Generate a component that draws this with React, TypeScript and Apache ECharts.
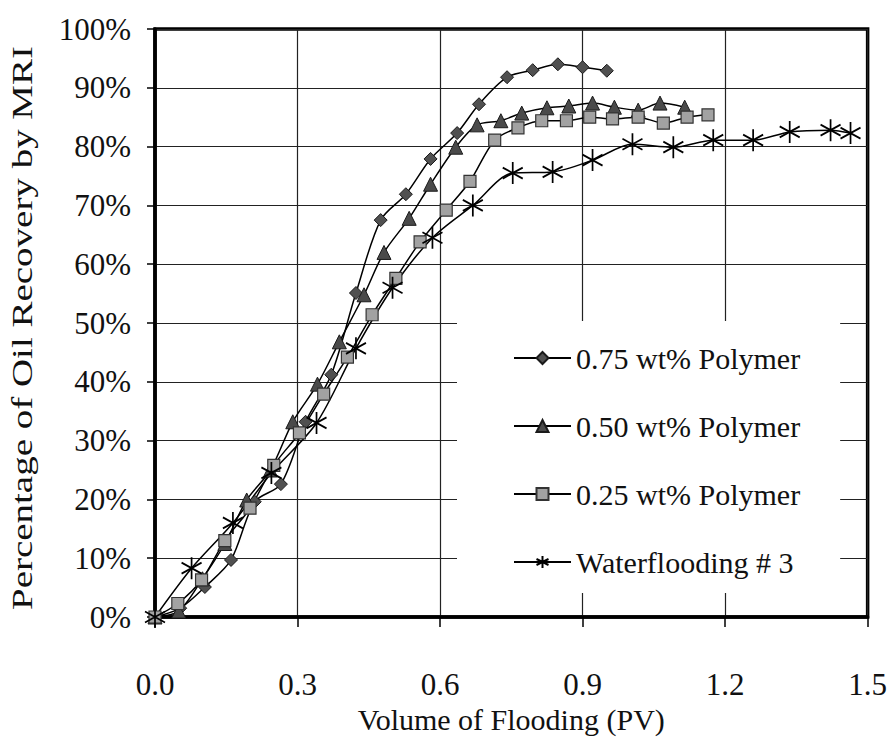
import React, { useEffect, useRef } from 'react';
import * as echarts from 'echarts';

// ---- Data (Volume of flooding in PV, recovery in %) ----
const x075 = [0, 0.053, 0.105, 0.16, 0.21, 0.265, 0.317, 0.371, 0.423, 0.475, 0.528, 0.58, 0.636, 0.682, 0.741, 0.795, 0.848, 0.9, 0.951];
const y075 = [0, 1.5, 5.1, 9.7, 19.6, 22.6, 33.2, 41.2, 55.1, 67.5, 71.9, 77.9, 82.3, 87.2, 91.8, 93.0, 94.0, 93.5, 92.9];

const x050 = [0, 0.05, 0.1, 0.147, 0.193, 0.243, 0.29, 0.342, 0.388, 0.44, 0.482, 0.535, 0.58, 0.633, 0.678, 0.728, 0.772, 0.825, 0.871, 0.921, 0.967, 1.017, 1.063, 1.115];
const y050 = [0, 1, 6.5, 12.5, 19.9, 25, 33.2, 39.6, 46.8, 54.8, 62, 67.8, 73.6, 79.9, 83.7, 84.4, 85.7, 86.6, 86.9, 87.4, 86.7, 86.2, 87.4, 86.7];

const x025 = [0, 0.048, 0.098, 0.147, 0.2, 0.25, 0.304, 0.355, 0.405, 0.457, 0.507, 0.558, 0.613, 0.663, 0.715, 0.764, 0.814, 0.866, 0.915, 0.963, 1.017, 1.07, 1.12, 1.164];
const y025 = [0, 2.3, 6.3, 13, 18.5, 25.8, 31.3, 37.9, 44.2, 51.4, 57.6, 63.8, 69.2, 74.1, 81.1, 83.2, 84.4, 84.4, 85, 84.7, 85, 84, 85, 85.4];

const xWF = [0, 0.077, 0.164, 0.245, 0.34, 0.423, 0.5, 0.584, 0.669, 0.753, 0.837, 0.921, 1.005, 1.091, 1.175, 1.259, 1.336, 1.422, 1.464];
const yWF = [0, 8.3, 16, 24.5, 33, 45.7, 56, 64.5, 70, 75.5, 75.7, 77.7, 80.4, 79.9, 81.1, 81.1, 82.5, 82.8, 82.3];

const seriesNames = ['0.75 wt% Polymer', '0.50 wt% Polymer', '0.25 wt% Polymer', 'Waterflooding # 3'];
const xTitle = 'Volume of Flooding (PV)';
const yTitle = 'Percentage of Oil Recovery by MRI';

const FONT = 'Liberation Serif';
const STAR = 'path://M0,-10 L0,10 M-8.66,-5 L8.66,5 M-8.66,5 L8.66,-5';

function pairs(xs: number[], ys: number[]) {
  return xs.map((x, i) => [x, ys[i]]);
}

function makeSeries(name: string, xs: number[], ys: number[], symbol: string, size: any, fill: string, border: string, bw: number) {
  return {
    type: 'line',
    name,
    data: pairs(xs, ys),
    smooth: 0.3,
    symbol,
    symbolSize: size,
    showAllSymbol: true,
    lineStyle: { color: '#000', width: 1.5 },
    itemStyle: { color: fill, borderColor: border, borderWidth: bw },
    emphasis: { disabled: true },
    z: 3,
  };
}

export default function App() {
  const ref = useRef<HTMLDivElement>(null);
  useEffect(() => {
    const chart = echarts.init(ref.current!, null, { renderer: 'svg' });
    chart.setOption({
      animation: false,
      backgroundColor: '#fff',
      textStyle: { fontFamily: FONT },
      grid: {
        left: 155, top: 29, right: 20, bottom: 125,
        show: true, borderColor: '#000', borderWidth: 3.5, backgroundColor: 'transparent',
      },
      xAxis: {
        type: 'value', min: 0, max: 1.5, interval: 0.3,
        name: xTitle, nameLocation: 'middle', nameGap: 86,
        nameTextStyle: { fontFamily: FONT, fontSize: 30, color: '#111' },
        axisLine: { show: true, lineStyle: { color: '#000', width: 3.5 } },
        axisTick: { show: true, inside: false, length: 10, lineStyle: { color: '#000', width: 1.5 } },
        axisLabel: { fontFamily: FONT, fontSize: 31, color: '#111', margin: 52, formatter: (v: number) => v.toFixed(1) },
        splitLine: { show: true, lineStyle: { color: '#222', width: 1.2 } },
      },
      yAxis: {
        type: 'value', min: 0, max: 100, interval: 10,
        axisLine: { show: true, lineStyle: { color: '#000', width: 3.5 } },
        axisTick: { show: true, inside: false, length: 8, lineStyle: { color: '#000', width: 1.5 } },
        axisLabel: { fontFamily: FONT, fontSize: 31, color: '#111', margin: 24, formatter: '{value}%' },
        splitLine: { show: true, lineStyle: { color: '#222', width: 1.2 } },
      },
      legend: {
        show: true,
        orient: 'vertical',
        left: 457, top: 321,
        backgroundColor: '#fff',
        padding: [22, 40, 16, 56],
        itemWidth: 57, itemHeight: 15, itemGap: 38,
        textStyle: { fontFamily: FONT, fontSize: 30, color: '#111', lineHeight: 30 },
        data: seriesNames,
        selectedMode: false,
      },
      graphic: [
        {
          type: 'text',
          x: 22, y: 328,
          rotation: Math.PI / 2,
          scaleX: 1.3,
          style: {
            text: yTitle,
            fontFamily: FONT, fontSize: 30, fill: '#111',
            align: 'center', verticalAlign: 'middle',
          },
          silent: true,
        },
      ],
      series: [
        makeSeries(seriesNames[0], x075, y075, 'diamond', 13, '#505050', '#1a1a1a', 1),
        makeSeries(seriesNames[1], x050, y050, 'triangle', 14, '#4a4a4a', '#1a1a1a', 1),
        makeSeries(seriesNames[2], x025, y025, 'rect', 12, '#a2a2a2', '#333', 1.2),
        makeSeries(seriesNames[3], xWF, yWF, STAR, [20, 22], 'none', '#000', 1.8),
      ],
    });
    return () => chart.dispose();
  }, []);
  return <div ref={ref} style={{ position: 'fixed', left: 0, top: 0, width: 890, height: 742 }} />;
}
